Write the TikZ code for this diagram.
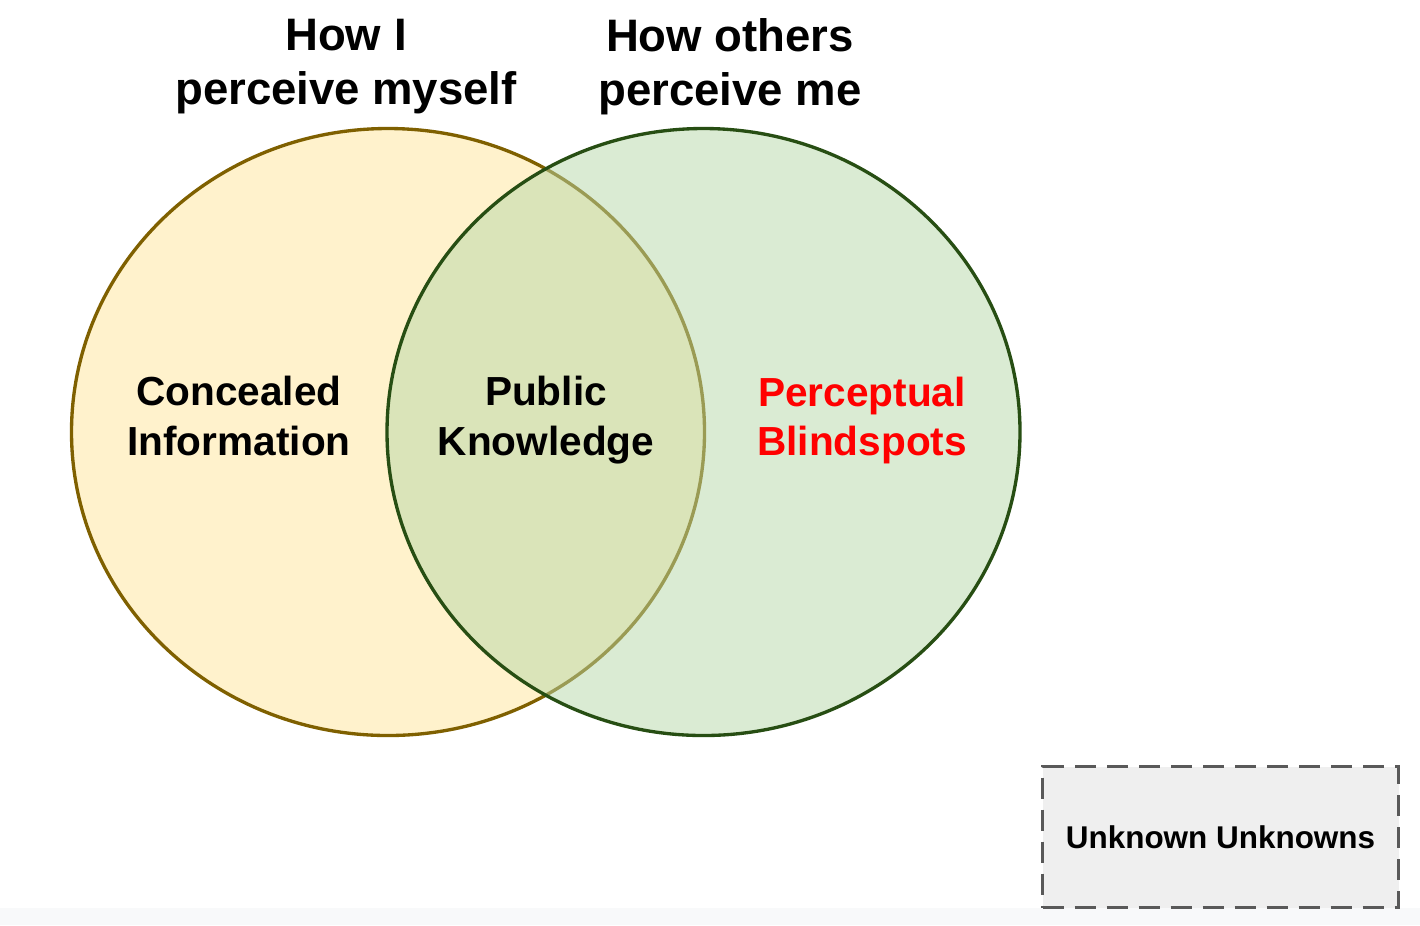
\documentclass[tikz,border=0pt]{standalone}
\usepackage{fontspec}
\setmainfont{Liberation Sans}
\usetikzlibrary{positioning,shapes.geometric}
\definecolor{selfline}{HTML}{7F6000}
\definecolor{selffill}{HTML}{FFF2CC}
\definecolor{otherline}{HTML}{274E13}
\definecolor{otherfill}{HTML}{B6D7A8}
\definecolor{unkfill}{HTML}{EFEFEF}
\definecolor{unkline}{HTML}{595959}
\definecolor{stripfill}{HTML}{F8F9FA}
\definecolor{blindred}{HTML}{FF0000}
\tikzset{
	blob/.style={ellipse,draw,line width=0.95pt,inner sep=0pt,minimum width=63.3mm,minimum height=60.7mm},
	heading/.style={align=center,inner sep=0pt,font=\fontsize{12.95}{15.4}\selectfont\bfseries},
	region/.style={align=center,inner sep=0pt,font=\fontsize{11.55}{14.2}\selectfont\bfseries},
	unkbox/.style={draw=unkline,fill=unkfill,line width=1.1pt,dash pattern=on 2.1mm off 1.1mm,minimum width=35.6mm,minimum height=14.1mm,inner sep=0pt,font=\fontsize{8.95}{10.7}\selectfont\bfseries}
}
\begin{document}
\begin{tikzpicture}[x=0.1mm,y=-0.1mm]
	\useasboundingbox (0,0) rectangle (1420,925);
	\fill[stripfill] (0,908) rectangle (1420,925);
	\draw
	node[blob,draw=selfline,fill=selffill] (self) at (388,432) {}
	node[blob,draw=otherline,fill=otherfill,fill opacity=0.5,draw opacity=1] (others) at (703.5,432) {};
	\draw
	node[heading] (selft) at (346,66.5) {How I\\perceive myself}
	node[heading] (otherst) at (730,66.5) {How others\\perceive me}
	node[region] (hidden) at (239,416) {Concealed\\Information}
	node[region] (public) at (546,420.5) {Public\\Knowledge}
	node[region,text=blindred] (blind) at (862,420.5) {Perceptual\\Blindspots}
	node[unkbox] (unknown) at (1220.5,837) {Unknown Unknowns};
\end{tikzpicture}
\end{document}
